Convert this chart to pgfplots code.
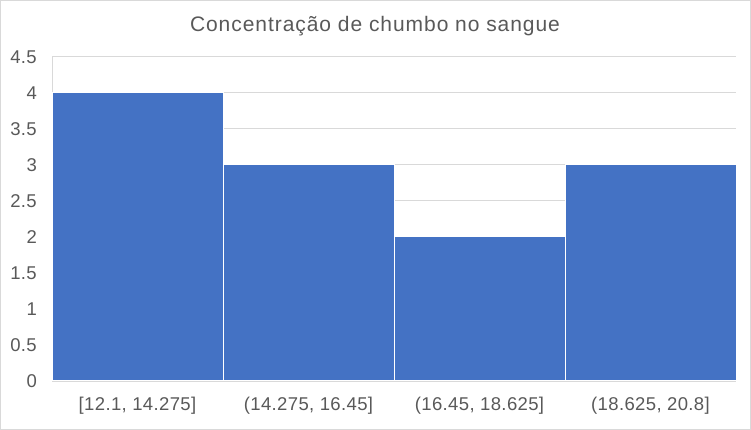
\documentclass[border=0pt]{standalone}
\usepackage{fontspec}
\setmainfont{Liberation Sans}
\usepackage{pgfplots}
\pgfplotsset{compat=1.18}
\definecolor{barblue}{HTML}{4472C4}
\definecolor{txtgray}{HTML}{595959}
\definecolor{gridgray}{HTML}{D9D9D9}
\begin{document}
\begin{tikzpicture}
\useasboundingbox (0,0) rectangle (751pt,430pt);
\draw[gridgray, line width=1pt] (0.5pt,0.5pt) rectangle (750.5pt,429.5pt);
\begin{axis}[
  at={(52pt,49pt)}, anchor=south west,
  scale only axis, width=684pt, height=324pt,
  xmin=-0.5, xmax=3.5, ymin=0, ymax=4.5,
  ytick={0,0.5,...,4.5},
  yticklabels={0,0.5,1,1.5,2,2.5,3,3.5,4,4.5},
  xtick={0,1,2,3},
  xticklabels={{[12.1, 14.275]},{(14.275, 16.45]},{(16.45, 18.625]},{(18.625, 20.8]}},
  axis x line=bottom, axis y line=left,
  x axis line style={draw=gridgray, -},
  y axis line style={draw=gridgray, -},
  major tick length=0pt,
  ymajorgrids, grid style={draw=gridgray, line width=1pt},
  /pgf/number format/assume math mode=true,
  tick label style={font=\fontsize{18.5}{20}\selectfont\addfontfeature{LetterSpace=2}, text=txtgray},
  yticklabel style={inner sep=0pt, xshift=-15pt, anchor=east},
  xticklabel style={inner sep=0pt, yshift=-16pt, anchor=north},
  clip=false,
]
\addplot[ybar, bar width=1, fill=barblue, draw=white, line width=1pt]
  coordinates {(0,4) (1,3) (2,2) (3,3)};
\end{axis}
\node[text=txtgray, font=\fontsize{21}{24}\selectfont\addfontfeature{LetterSpace=4.5}] at (375pt,404pt) {Concentração de chumbo no sangue};
\end{tikzpicture}
\end{document}
